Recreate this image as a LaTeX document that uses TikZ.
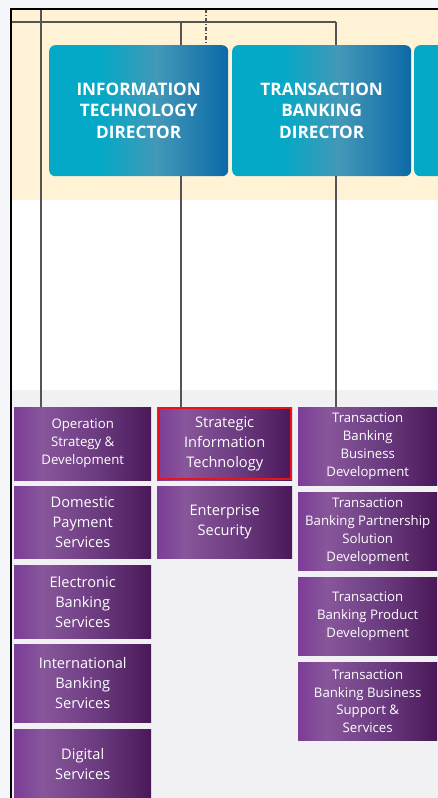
\documentclass[tikz,border=0pt]{standalone}
\usepackage{fontspec}
\setmainfont{Open Sans}
\usetikzlibrary{calc}

% palette
\definecolor{outerbg}{HTML}{F6F7FB}
\definecolor{creambg}{HTML}{FFF2D5}
\definecolor{graybg}{HTML}{F1F1F3}
\definecolor{linegray}{HTML}{555555}
\definecolor{dirA}{HTML}{03A9C6}
\definecolor{dirB}{HTML}{4398B7}
\definecolor{dirC}{HTML}{0B69A7}
\definecolor{purA}{HTML}{7C3C97}
\definecolor{purB}{HTML}{87569B}
\definecolor{purM}{HTML}{6A3A7E}
\definecolor{purC}{HTML}{4A1858}
\definecolor{hilite}{HTML}{E8141C}

% gradients (the path is mapped onto 25bp..75bp)
\pgfdeclarehorizontalshading{dirfill}{100bp}{color(0bp)=(dirA); color(25bp)=(dirA); color(39bp)=(dirA); color(55bp)=(dirB); color(75bp)=(dirC); color(100bp)=(dirC)}
\pgfdeclarehorizontalshading{purfill}{100bp}{color(0bp)=(purA); color(25bp)=(purA); color(35bp)=(purB); color(56bp)=(purM); color(75bp)=(purC); color(100bp)=(purC)}

\tikzset{
  director/.style={rounded corners=6pt, shading=dirfill, anchor=north west,
    minimum width=179pt, minimum height=131pt, inner sep=0pt, text=white,
    align=center, font=\bfseries\fontsize{17.2}{21.5}\selectfont},
  unitbox/.style={shading=purfill, anchor=north west, inner sep=0pt,
    text=white, align=center, font=\fontsize{14.6}{20}\selectfont},
  colA/.style={unitbox, minimum width=137pt},
  colB/.style={unitbox, minimum width=135pt},
  colC/.style={unitbox, minimum width=139pt, minimum height=78pt,
    font=\fontsize{13.2}{17.7}\selectfont},
  conn/.style={draw=linegray, line width=1.2pt},
  dashdot/.style={conn, dash pattern=on 4pt off 2pt on 1pt off 2pt},
  frameline/.style={draw=black, line width=1.5pt},
}

\begin{document}
\begin{tikzpicture}[x=1pt, y=-1pt]
\useasboundingbox (0,0) rectangle (438,798);
\clip (0,0) rectangle (438,798);

% background bands
\fill[outerbg] (0,0) rectangle (438,798);
\fill[creambg] (11,9) rectangle (438,200);
\fill[white] (11,200) rectangle (438,390);
\fill[graybg] (11,390) rectangle (438,798);

% directors
\node[director] (itdir) at (49,45) {INFORMATION\\TECHNOLOGY\\DIRECTOR};
\node[director] (tbdir) at (232,45) {TRANSACTION\\BANKING\\DIRECTOR};
\node[director] (nextdir) at (414,45) {};

% first column of units
\node[colA, minimum height=73pt, font=\fontsize{13.2}{18}\selectfont] (opsd) at (14,407) {Operation\\Strategy \&\\Development};
\node[colA, minimum height=72pt] (dps) at (14,486) {Domestic\\Payment\\Services};
\node[colA, minimum height=73pt] (ebs) at (14,565) {Electronic\\Banking\\Services};
\node[colA, minimum height=78pt] (ibs) at (14,644) {International\\Banking\\Services};
\node[colA, minimum height=69pt] (dgs) at (14,729) {Digital\\Services};

% second column of units
\node[colB, minimum height=73pt] (sit) at (157,407) {Strategic\\Information\\Technology};
\node[colB, minimum height=72pt] (ens) at (157,486) {Enterprise\\Security};
\draw[hilite, line width=2.4pt] ([xshift=2pt,yshift=-1.2pt]sit.north west) rectangle ([xshift=-1.2pt,yshift=1.5pt]sit.south east);

% third column of units
\node[colC] (tbbd) at (298,407) {Transaction\\Banking\\Business\\Development};
\node[colC] (tbps) at (298,492) {Transaction\\Banking Partnership\\Solution\\Development};
\node[colC] (tbpd) at (298,577) {Transaction\\Banking Product\\Development};
\node[colC] (tbss) at (298,662) {Transaction\\Banking Business\\Support \&\\Services};

% reporting lines
\coordinate (busW) at (11,22);
\coordinate (itdrop) at (181,22);
\coordinate (busE) at (336,22);
\coordinate (optop) at (41,9);
\coordinate (dotted) at (206,9);
\draw[conn] (busW) -- (busE);
\draw[conn] (itdrop) -- (itdrop |- itdir.north);
\draw[conn] (itdrop |- itdir.south) -- (itdrop |- sit.north);
\draw[conn] (busE) -- (busE |- tbdir.north);
\draw[conn] (busE |- tbdir.south) -- (busE |- tbbd.north);
\draw[conn] (optop) -- (optop |- opsd.north);
\draw[dashdot] (dotted) -- (dotted |- itdir.north);

% frame
\coordinate (frameBL) at (11,798);
\coordinate (frameTL) at (11,9);
\coordinate (frameTR) at (438,9);
\draw[frameline] (frameBL) -- (frameTL) -- (frameTR);
\end{tikzpicture}
\end{document}
